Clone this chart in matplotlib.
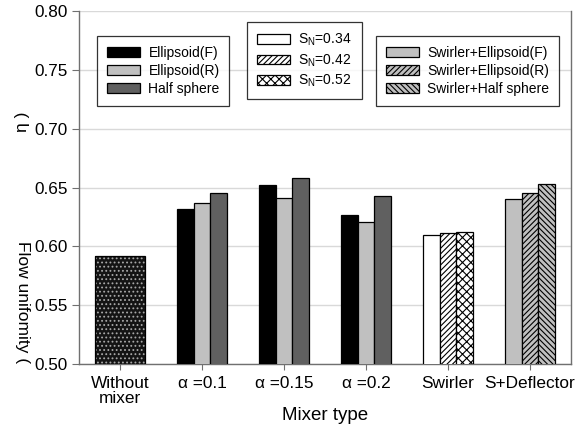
import matplotlib
matplotlib.use("Agg")
import matplotlib.pyplot as plt
from matplotlib.patches import Patch
import numpy as np

plt.rcParams['font.family'] = ['Liberation Sans', 'DejaVu Sans']
plt.rcParams['hatch.linewidth'] = 0.8

categories = ["Without\nmixer", "α =0.1", "α =0.15", "α =0.2", "Swirler", "S+Deflector"]

# uniformity values per mixer
without_mixer = [0.592]
ellipsoid_f = [0.632, 0.652, 0.627]     # alpha = 0.1, 0.15, 0.2
ellipsoid_r = [0.637, 0.641, 0.621]
half_sphere = [0.645, 0.658, 0.643]
swirler = [0.610, 0.611, 0.612]         # S_N = 0.34, 0.42, 0.52
deflector = [0.640, 0.645, 0.653]       # swirler + ellipsoid(F), ellipsoid(R), half sphere

swirl_labels = ["$\\mathregular{S_N}$=0.34", "$\\mathregular{S_N}$=0.42", "$\\mathregular{S_N}$=0.52"]
ellip_labels = ["Ellipsoid(F)", "Ellipsoid(R)", "Half sphere"]
defl_labels = ["Swirler+Ellipsoid(F)", "Swirler+Ellipsoid(R)", "Swirler+Half sphere"]

BLACK, LIGHT, DARK = "#000000", "#c0c0c0", "#606060"

fig = plt.figure(figsize=(5.87, 4.32), dpi=100)
ax = fig.add_axes([79/587, 1-364/432, (571-79)/587, (364-11)/432])

x = np.arange(len(categories))
w = 0.2
ekw = dict(edgecolor="black", linewidth=0.9, zorder=3)

# without mixer: single wide dark bar with a light dot pattern
ax.bar(x[0], without_mixer[0], width=3*w, facecolor="#141414", edgecolor="#a8a8a8",
       hatch="....", linewidth=0, zorder=3)
ax.bar(x[0], without_mixer[0], width=3*w, fill=False, edgecolor="black", linewidth=0.9, zorder=4)

# alpha groups
ax.bar(x[1:4] - w, ellipsoid_f, width=w, facecolor=BLACK, **ekw)
ax.bar(x[1:4], ellipsoid_r, width=w, facecolor=LIGHT, **ekw)
ax.bar(x[1:4] + w, half_sphere, width=w, facecolor=DARK, **ekw)

# swirler group
sw_styles = [dict(facecolor="white"), dict(facecolor="white", hatch="//////"),
             dict(facecolor="white", hatch="xxxx")]
for i, (v, st) in enumerate(zip(swirler, sw_styles)):
    ax.bar(x[4] + (i - 1) * w, v, width=w, **st, **ekw)

# swirler + deflector group
df_styles = [dict(facecolor=LIGHT), dict(facecolor=LIGHT, hatch="//////"),
             dict(facecolor=LIGHT, hatch="\\\\\\\\\\\\")]
for i, (v, st) in enumerate(zip(deflector, df_styles)):
    ax.bar(x[5] + (i - 1) * w, v, width=w, **st, **ekw)

ax.set_ylim(0.50, 0.80)
ax.set_xlim(-0.5, 5.5)
ax.set_yticks(np.arange(0.50, 0.801, 0.05))
ax.set_yticklabels([f"{v:.2f}" for v in np.arange(0.50, 0.801, 0.05)])
ax.set_xticks(x)
ax.set_xticklabels(categories, linespacing=0.95)
ax.yaxis.grid(True, color="#d9d9d9", linewidth=1.0, zorder=0)
ax.set_axisbelow(True)
for s in ["left", "bottom", "right"]:
    ax.spines[s].set_color("#707070")
    ax.spines[s].set_linewidth(1.0)
ax.spines["top"].set_visible(False)
ax.tick_params(axis="both", colors="#707070", labelcolor="black", direction="out")
ax.tick_params(axis="y", length=5, pad=3, labelsize=12.3)
ax.tick_params(axis="x", length=4, pad=5, labelsize=12.4)

ax.set_xlabel("Mixer type", fontsize=13.5, labelpad=1)

# y label pieces
fig.text(22/587, 1-302/432, "Flow unifomity (", rotation=-90, ha="center", va="center", fontsize=12.5)
fig.text(22/587, 1-122/432, "η )", rotation=90, ha="center", va="center", fontsize=12.5)

leg_kw = dict(fontsize=10, frameon=True, fancybox=False, edgecolor="black",
              handlelength=2.4, handleheight=0.7, handletextpad=0.6,
              labelspacing=0.3, borderpad=0.7, borderaxespad=0,
              bbox_transform=fig.transFigure, loc="upper left")

def make_handles(styles):
    return [Patch(edgecolor="black", linewidth=0.9, **st) for st in styles]

h1 = make_handles([dict(facecolor=BLACK), dict(facecolor=LIGHT), dict(facecolor=DARK)])
l1 = ax.legend(h1, ellip_labels, bbox_to_anchor=(97/587, 1-36/432), **leg_kw)
l1.get_frame().set_linewidth(0.9)
ax.add_artist(l1)

h2 = make_handles(sw_styles)
l2 = ax.legend(h2, swirl_labels, bbox_to_anchor=(247/587, 1-22/432), **leg_kw)
l2.get_frame().set_linewidth(0.9)
ax.add_artist(l2)

h3 = make_handles(df_styles)
l3 = ax.legend(h3, defl_labels, bbox_to_anchor=(376/587, 1-36/432), **leg_kw)
l3.get_frame().set_linewidth(0.9)

fig.savefig("out.png", dpi=100)
